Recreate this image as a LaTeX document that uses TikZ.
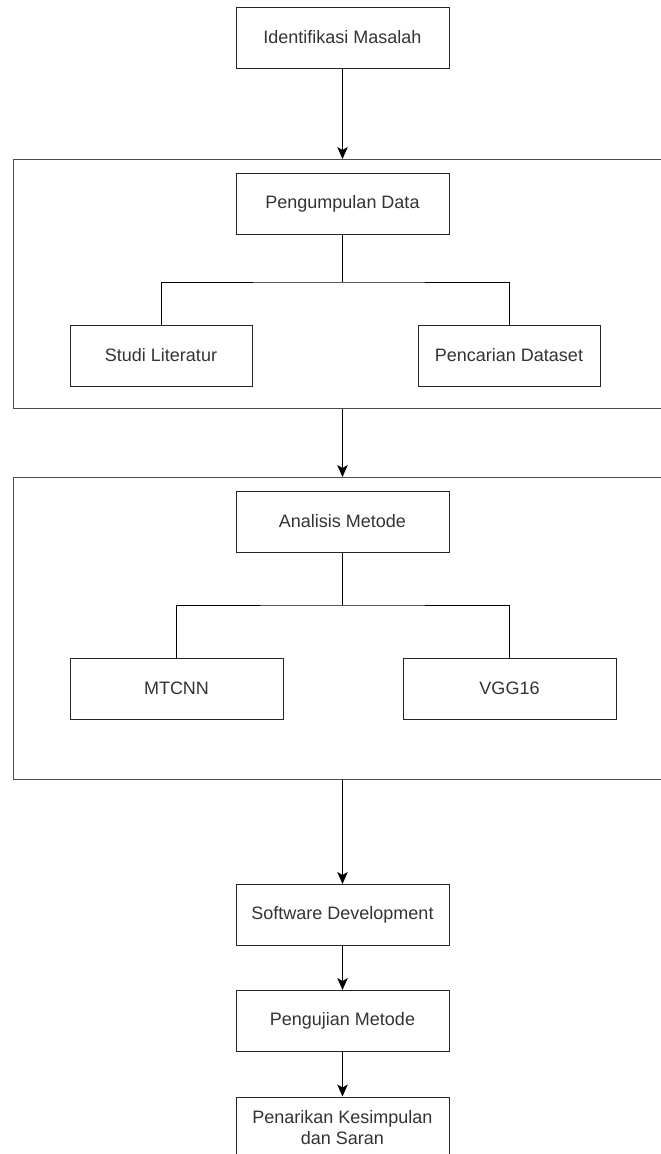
\documentclass[tikz,border=0pt]{standalone}
\usepackage{fontspec}
\setmainfont{Liberation Sans}
\usetikzlibrary{arrows.meta}
\begin{document}
\begin{tikzpicture}
  [x=1pt, y=-1pt,
   box/.style={rectangle, draw=black!85, line width=1pt, minimum width=213pt, minimum height=61pt,
     inner sep=2pt, align=center, text=black!80, font=\fontsize{18}{21}\selectfont},
   frame/.style={rectangle, draw=black!70, line width=1.2pt, minimum width=720pt, anchor=north west, inner sep=0pt},
   link/.style={line width=1pt, draw=black},
   arrow/.style={line width=1pt, draw=black, -{Stealth[length=12pt, width=10.5pt, inset=3pt]}}]

  \clip (0,0) rectangle (661,1154);

  % Bingkai tahap
  \node[frame, minimum height=249pt] (f1) at (13,159) {};
  \node[frame, minimum height=302pt] (f2) at (13,477) {};

  % Kotak tahapan
  \node[box] (im) at (342.5,37.5) {Identifikasi Masalah};
  \node[box] (pd) at (342.5,204) {Pengumpulan Data};
  \node[box, minimum width=182pt] (sl) at (161,355.5) {Studi Literatur};
  \node[box, minimum width=182pt] (pc) at (509,355.5) {Pencarian Dataset};
  \node[box] (am) at (342.5,521.5) {Analisis Metode};
  \node[box] (mt) at (176.5,688.5) {MTCNN};
  \node[box] (vg) at (509.5,688.5) {VGG16};
  \node[box] (sd) at (342.5,915) {Software Development};
  \node[box] (pm) at (342.5,1021) {Pengujian Metode};
  \node[box] (pk) at (342.5,1127.5) {Penarikan Kesimpulan\\dan Saran};

  % Cabang di dalam bingkai
  \coordinate (b1) at (342.5,282);
  \coordinate (b2) at (342.5,605);
  \draw[link] (pd) -- (b1);
  \draw[link] (sl.north) |- (b1) -| (pc.north);
  \draw[link] (am) -- (b2);
  \draw[link] (mt.north) |- (b2) -| (vg.north);

  % Panah antar tahap
  \draw[arrow] (im) -- (im |- f1.north);
  \draw[arrow] (pd |- f1.south) -- (pd |- f2.north);
  \draw[arrow] (am |- f2.south) -- (sd);
  \foreach \from/\to in {sd/pm, pm/pk}
    \draw[arrow] (\from) -- (\to);
\end{tikzpicture}
\end{document}
